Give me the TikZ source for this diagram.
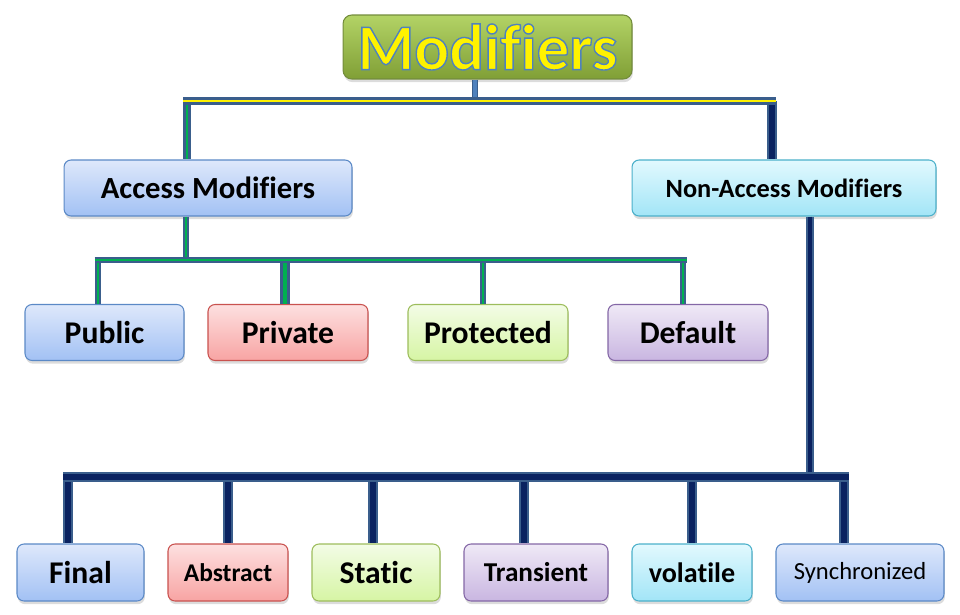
\documentclass[tikz,border=0pt]{standalone}
\usepackage{fontspec}
\setmainfont{Carlito}[Ligatures=CommonOff]
\usepackage{tikz}
\usetikzlibrary{shadows}

\definecolor{linkblue}{HTML}{3A5E8C}
\definecolor{navyin}{HTML}{0A2260}
\definecolor{greenin}{HTML}{00B050}
\definecolor{stubin}{HTML}{4F81BD}
\definecolor{bluetop}{HTML}{DEE8FB}
\definecolor{bluebot}{HTML}{A2C1F4}
\definecolor{bluebd}{HTML}{5B89C6}
\definecolor{redtop}{HTML}{FDE0E0}
\definecolor{redbot}{HTML}{F8A4A3}
\definecolor{redbd}{HTML}{C9524F}
\definecolor{greentop}{HTML}{F3FCE6}
\definecolor{greenbot}{HTML}{D6F5A4}
\definecolor{greenbd}{HTML}{9DBD5C}
\definecolor{purptop}{HTML}{EFE9F6}
\definecolor{purpbot}{HTML}{C9B6E1}
\definecolor{purpbd}{HTML}{8467A6}
\definecolor{cyantop}{HTML}{E2F9FE}
\definecolor{cyanbot}{HTML}{A2E5F7}
\definecolor{cyanbd}{HTML}{4BB0CA}
\definecolor{olivetop}{HTML}{B3D366}
\definecolor{olivebot}{HTML}{809F36}
\definecolor{olivebd}{HTML}{738C3C}

\newcommand{\outlinedtext}[1]{\special{pdf:literal direct 2 Tr 0.8 w 0.31 0.51 0.74 RG}#1\special{pdf:literal direct 0 Tr}}

\tikzset{
	box/.style={rectangle, rounded corners=4pt, line width=0.6pt, inner sep=0pt, minimum height=1.12cm,
		font=\bfseries\fontsize{18}{20}\selectfont,
		drop shadow={shadow xshift=0.5pt, shadow yshift=-1.8pt, opacity=0.28}},
	bluebox/.style={box, draw=bluebd, top color=bluetop, bottom color=bluebot},
	redbox/.style={box, draw=redbd, top color=redtop, bottom color=redbot},
	greenbox/.style={box, draw=greenbd, top color=greentop, bottom color=greenbot},
	purplebox/.style={box, draw=purpbd, top color=purptop, bottom color=purpbot},
	cyanbox/.style={box, draw=cyanbd, top color=cyantop, bottom color=cyanbot},
	modbox/.style={box, rounded corners=5pt, draw=olivebd, top color=olivetop, bottom color=olivebot,
		minimum width=5.78cm, minimum height=1.28cm, text=yellow, font=\bfseries\fontsize{37}{40}\selectfont},
	busY/.style={draw=linkblue, line width=1.4pt, double=yellow, double distance=1.3pt},
	busG/.style={draw=linkblue, line width=1.35pt, double=greenin, double distance=1.2pt},
	busN/.style={draw=linkblue, line width=1.1pt, double=navyin, double distance=3.4pt},
	stub/.style={draw=linkblue, line width=0.8pt, double=stubin, double distance=1.9pt}
}

\begin{document}
\begin{tikzpicture}[x=0.02cm, y=-0.02cm]
	\useasboundingbox (0,0) rectangle (960,615);

	\node[modbox] (mod) at (487.5,47) {\outlinedtext{Modifiers}};
	\node[bluebox, minimum width=5.76cm, font=\bfseries\fontsize{17.5}{20}\selectfont] (acc) at (208,188) {Access Modifiers};
	\node[cyanbox, minimum width=6.08cm, font=\bfseries\fontsize{15}{18}\selectfont] (nac) at (784,188) {Non-Access Modifiers};

	\node[bluebox, minimum width=3.18cm] (pub) at (104.5,332.5) {Public};
	\node[redbox, minimum width=3.2cm] (pri) at (288,332.5) {Private};
	\node[greenbox, minimum width=3.2cm] (pro) at (488,332.5) {Protected};
	\node[purplebox, minimum width=3.2cm] (def) at (688,332.5) {Default};

	\node[bluebox, minimum width=2.54cm, minimum height=1.14cm] (fin) at (80.5,572.5) {Final};
	\node[redbox, minimum width=2.4cm, minimum height=1.14cm, font=\bfseries\fontsize{14.5}{17}\selectfont] (abs) at (228,572.5) {Abstract};
	\node[greenbox, minimum width=2.56cm, minimum height=1.14cm] (sta) at (376,572.5) {Static};
	\node[purplebox, minimum width=2.88cm, minimum height=1.14cm, font=\bfseries\fontsize{15.5}{18}\selectfont] (tra) at (536,572.5) {Transient};
	\node[cyanbox, minimum width=2.4cm, minimum height=1.14cm, font=\bfseries\fontsize{16}{18}\selectfont] (vol) at (692,572.5) {volatile};
	\node[bluebox, minimum width=3.36cm, minimum height=1.14cm, font=\fontsize{14}{17}\selectfont] (syn) at (860,572.5) {Synchronized};

	\coordinate (topL) at (183,101);
	\coordinate (topR) at (776,101);
	\coordinate (topM) at (475,101);
	\coordinate (topA) at (187,101);
	\coordinate (topN) at (772,101);

	\coordinate (accL) at (94.5,260);
	\coordinate (accR) at (687,260);
	\coordinate (accM) at (186,260);
	\coordinate (acc1) at (98,260);
	\coordinate (acc2) at (285,260);
	\coordinate (acc3) at (483,260);
	\coordinate (acc4) at (683,260);

	\coordinate (nacL) at (63,477);
	\coordinate (nacR) at (849,477);
	\coordinate (nacM) at (810,477);
	\coordinate (nac1) at (68,477);
	\coordinate (nac2) at (228,477);
	\coordinate (nac3) at (373,477);
	\coordinate (nac4) at (524,477);
	\coordinate (nac5) at (692,477);
	\coordinate (nac6) at (844,477);

	\draw[stub] (topM |- mod.south) -- (topM);
	\draw[busG, line width=1.6pt] (topA) -- (topA |- acc.north);
	\draw[busN, double distance=2.9pt, line width=1.3pt] (topN) -- (topN |- nac.north);
	\draw[busY] (topL) -- (topR);

	\draw[busG] (accM |- acc.south) -- (accM);
	\draw[busG] (acc1) -- (acc1 |- pub.north);
	\draw[busG, line width=1.7pt, double distance=2.8pt] (acc2) -- (acc2 |- pri.north);
	\draw[busG] (acc3) -- (acc3 |- pro.north);
	\draw[busG] (acc4) -- (acc4 |- def.north);
	\draw[busG] (accL) -- (accR);

	\draw[busN, double distance=2.2pt] (nacM |- nac.south) -- (nacM);
	\draw[busN] (nac1) -- (nac1 |- fin.north);
	\draw[busN] (nac2) -- (nac2 |- abs.north);
	\draw[busN] (nac3) -- (nac3 |- sta.north);
	\draw[busN] (nac4) -- (nac4 |- tra.north);
	\draw[busN] (nac5) -- (nac5 |- vol.north);
	\draw[busN] (nac6) -- (nac6 |- syn.north);
	\draw[busN] (nacL) -- (nacR);
\end{tikzpicture}
\end{document}
